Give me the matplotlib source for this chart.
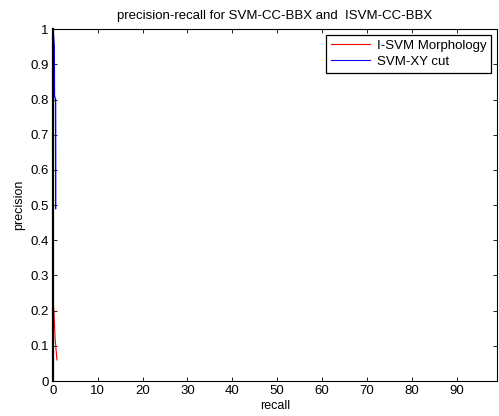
import numpy as np
import matplotlib.pyplot as plt

plt.rcParams['font.family'] = ['Liberation Sans', 'DejaVu Sans']

# recall / precision curves
recall_isvm = [0.0, 0.25, 0.5, 0.9]
precision_isvm = [0.245, 0.19, 0.12, 0.06]

recall_svm = [0.02, 0.1, 0.3, 0.35, 0.6, 0.62, 0.62]
precision_svm = [1.0, 0.99, 0.95, 0.81, 0.80, 0.6, 0.49]

x_ticks = [0, 10, 20, 30, 40, 50, 60, 70, 80, 90]
y_ticks = [0, 0.1, 0.2, 0.3, 0.4, 0.5, 0.6, 0.7, 0.8, 0.9, 1]
y_labels = ['0', '0.1', '0.2', '0.3', '0.4', '0.5', '0.6', '0.7', '0.8', '0.9', '1']

fig = plt.figure(figsize=(4.99, 4.16), dpi=100)
ax = fig.add_axes([0.106, 0.084, 0.89, 0.846])

ax.plot(recall_isvm, precision_isvm, color='red', linewidth=0.8, label='I-SVM Morphology')
ax.plot(recall_svm, precision_svm, color='blue', linewidth=1.0, label='SVM-XY cut')

ax.set_xlim(0, 99)
ax.set_ylim(0, 1)
ax.set_xticks(x_ticks)
ax.set_yticks(y_ticks)
ax.set_yticklabels(y_labels)
ax.tick_params(direction='in', top=True, right=True, labelsize=9.5, length=3, width=0.6, pad=3)
for s in ax.spines.values():
    s.set_linewidth(0.8)
ax.spines['left'].set_linewidth(1.6)

ax.set_xlabel('recall', fontsize=9, labelpad=2)
ax.set_ylabel('precision', fontsize=9, labelpad=4)
ax.set_title('precision-recall for SVM-CC-BBX and  ISVM-CC-BBX', fontsize=9.5, pad=7)

leg = ax.legend(loc='upper right', fontsize=9.5, fancybox=False, framealpha=1,
                edgecolor='black', borderaxespad=0.45, handlelength=3.0,
                borderpad=0.35, labelspacing=0.3, handletextpad=0.5)
leg.get_frame().set_linewidth(0.9)
for ln in leg.get_lines():
    ln.set_linewidth(0.8)

fig.savefig('out.png', dpi=100)
